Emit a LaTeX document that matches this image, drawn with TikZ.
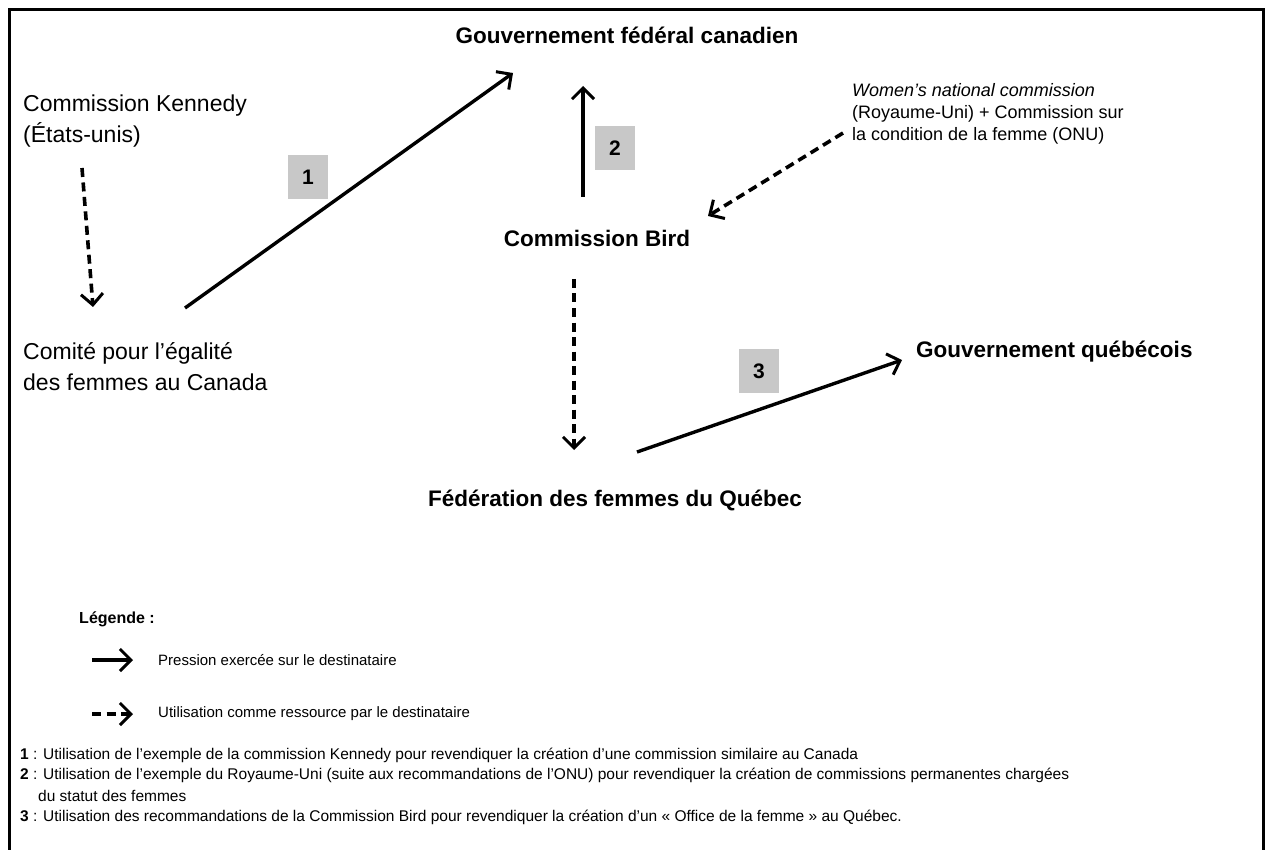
\documentclass[tikz,border=0pt]{standalone}
\usepackage{fontspec}
\setmainfont{Liberation Sans}
\usetikzlibrary{arrows.meta}
\definecolor{boxgray}{RGB}{200,200,200}
\begin{document}
\begin{tikzpicture}[x=1pt,y=-1pt,
  title/.style={font=\fontsize{22.5}{27}\selectfont\bfseries, inner sep=0pt},
  plain/.style={font=\fontsize{23}{31}\selectfont, inner sep=0pt, align=left},
  small/.style={font=\fontsize{18}{22}\selectfont, inner sep=0pt, align=left},
  leg/.style={font=\fontsize{15}{18}\selectfont, inner sep=0pt, anchor=west},
  foot/.style={font=\fontsize{15.5}{18}\selectfont, inner sep=0pt, anchor=west},
  numbox/.style={fill=boxgray, minimum width=40pt, minimum height=44pt, inner sep=0pt, font=\fontsize{21}{24}\selectfont\bfseries},
  tipv/.style={-{Straight Barb[length=11pt,width=22pt,line width=3pt]}},
  pression/.style={tipv, line width=3.4pt},
  ressource/.style={tipv, line width=3.6pt, dash pattern=on 9pt off 5.5pt},
]
\useasboundingbox (0,0) rectangle (1266,850);
\draw[line width=3.6pt] (9.5,852) -- (9.5,9.5) -- (1263.5,9.5) -- (1263.5,852);

% nodes
\node[title] (gov) at (627,35) {Gouvernement fédéral canadien};
\node[plain, anchor=west] (kennedy) at (23,121) {Commission Kennedy\\(États-unis)};
\node[plain, anchor=west] (comite) at (23,367) {Comité pour l’égalité\\des femmes au Canada};
\node[title] (bird) at (597,238) {Commission Bird};
\node[small, anchor=west] (women) at (852,114) {\textit{Women’s national commission}\\(Royaume-Uni) + Commission sur\\la condition de la femme (ONU)};
\node[title, anchor=west] (quebec) at (916,352) {Gouvernement québécois};
\node[title] (ffq) at (615,500) {Fédération des femmes du Québec};

% connector end points
\coordinate (a1s) at (185,308);
\coordinate (a1e) at (513,73);
\coordinate (a2s) at (583,197);
\coordinate (a2e) at (583,86);
\coordinate (a3s) at (637,452);
\coordinate (a3e) at (902,360);
\coordinate (dks) at (82,168);
\coordinate (dke) at (93,307);
\coordinate (dws) at (843,133);
\coordinate (dwe) at (708,216);
\coordinate (dbs) at (574,279);
\coordinate (dbe) at (574,450);

\draw[pression] (a1s) -- (a1e);
\draw[pression] (a2s) -- (a2e);
\draw[pression] (a3s) -- (a3e);
\draw[ressource] (dks) -- (dke);
\draw[ressource] (dws) -- (dwe);
\draw[ressource] (dbs) -- (dbe);

\node[numbox] (n1) at (308,177) {1};
\node[numbox] (n2) at (615,148) {2};
\node[numbox] (n3) at (759,371) {3};

% legend
\node[font=\fontsize{16}{19}\selectfont\bfseries, inner sep=0pt, anchor=east] (legt) at (155,619) {Légende :};
\coordinate (l1s) at (92,660);
\coordinate (l1e) at (133,660);
\coordinate (l2s) at (92,714);
\coordinate (l2e) at (133,714);
\draw[pression] (l1s) -- (l1e);
\draw[ressource] (l2s) -- (l2e);
\node[leg] (leg1) at (158,660) {Pression exercée sur le destinataire};
\node[leg] (leg2) at (158,714) {Utilisation comme ressource par le destinataire};

\node[foot] (f1) at (20,755) {\textbf{1} : Utilisation de l’exemple de la commission Kennedy pour revendiquer la création d’une commission similaire au Canada};
\node[foot] (f2) at (20,775) {\textbf{2} : Utilisation de l’exemple du Royaume-Uni (suite aux recommandations de l’ONU) pour revendiquer la création de commissions permanentes chargées};
\node[foot] (f2b) at (38,796) {du statut des femmes};
\node[foot] (f3) at (20,817) {\textbf{3} : Utilisation des recommandations de la Commission Bird pour revendiquer la création d’un « Office de la femme » au Québec.};
\end{tikzpicture}
\end{document}
